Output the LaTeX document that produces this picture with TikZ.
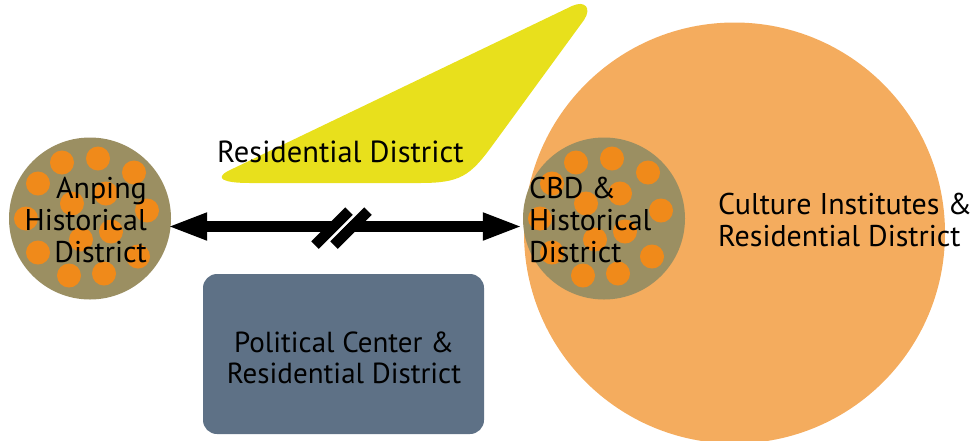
\documentclass[tikz,border=0pt]{standalone}
\usepackage{fontspec}
\setmainfont{PT Sans}
\usetikzlibrary{arrows.meta,calc}
\definecolor{distolive}{HTML}{9B8F62}
\definecolor{dotorange}{HTML}{F08A1A}
\definecolor{bigorange}{HTML}{F4AC5E}
\definecolor{resyellow}{HTML}{E8E01C}
\definecolor{slate}{HTML}{5E7186}
\begin{document}
\begin{tikzpicture}[x=1pt,y=-1pt,
  lbl/.style={font=\fontsize{30}{32}\selectfont, inner sep=0pt, text=black},
  biglbl/.style={font=\fontsize{30.5}{32}\selectfont, inner sep=0pt, text=black},
  boxlbl/.style={font=\fontsize{29}{31}\selectfont, inner sep=0pt, text=black},
  district/.style={circle, fill=distolive, minimum size=162pt, inner sep=0pt},
  dotc/.style={fill=dotorange},
  conn/.style={line width=10.5pt, {Triangle[length=40pt,width=25pt]}-{Triangle[length=40pt,width=25pt]}},
  breakbar/.style={line width=10.6pt, line cap=butt, black},
  breakgap/.style={line width=3pt, line cap=butt, white}]
\useasboundingbox (0,0) rectangle (975,440);
% residential district (yellow)
\fill[resyellow] (228,171) -- (572,6) .. controls (585,0) and (592,8) .. (584,20)
  -- (492,146) .. controls (470,176) and (460,183) .. (420,183)
  -- (250,183) .. controls (222,183) and (215,178) .. (228,171) -- cycle;
\node[biglbl, anchor=base west] (restxt) at (217,162) {Residential District};
% culture circle
\node[circle, fill=bigorange, minimum size=421pt, inner sep=0pt] (culture) at (734.5,233) {};
\node[lbl, anchor=base west, align=left] (culttxt) at (718,246) {Culture Institutes \&\\Residential District};
% political box
\node[rectangle, rounded corners=14pt, fill=slate, minimum width=281pt, minimum height=160pt] (political) at (343.5,354) {};
\node[boxlbl, anchor=base, align=center] (poltxt) at (344,383) {Political Center \&\\Residential District};
% district circles
\node[district] (anp) at (90,218.5) {};
\node[district] (cbd) at (604,218.5) {};
\foreach \c in {anp,cbd}{
  \foreach \dx/\dy in {-28/-56,8/-60,44/-46,-52/-35,-18/-15,16/-25,57/-8,-64/0,-9/21,21/13,-52/34,48/38,-21/57,14/55}{
    \fill[dotc] ([shift={(\dx,\dy)}]\c.center) circle (12pt);
  }
}
\node[lbl, anchor=base east, align=right] (anptxt) at (147,262) {Anping\\Historical\\District};
\node[lbl, anchor=base west, align=left] (cbdtxt) at (529,262) {CBD \&\\Historical\\District};
% connector
\coordinate (aL) at ($(anp.east)+(-4,8)$);
\coordinate (aR) at ($(cbd.west)+(0,8)$);
\draw[conn] (aL) -- (aR);
% break marks
\draw[breakgap] (324.5,245) -- (358.5,211);
\draw[breakbar] (315,245) -- (349,211);
\draw[breakbar] (334,245) -- (368,211);
\end{tikzpicture}
\end{document}
